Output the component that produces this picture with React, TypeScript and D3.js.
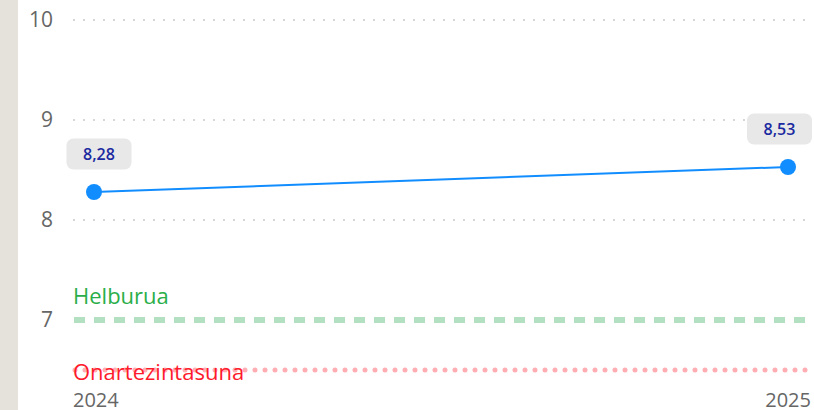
import React from "react";
import * as d3 from "d3";

const years = ["2024", "2025"];
const values = [8.28, 8.53];
const valueLabels = ["8,28", "8,53"];
const yTicks = [7, 8, 9, 10];
const gridTicks = [8, 9, 10];
const targetValue = 7;
const targetLabel = "Helburua";
const limitValue = 6.5;
const limitLabel = "Onartezintasuna";

const W = 814;
const H = 410;
const FONT = "'Segoe UI', 'Open Sans', 'Noto Sans', sans-serif";

export default function App() {
  const x = d3.scalePoint<string>().domain(years).range([94, 788]);
  const y = d3.scaleLinear().domain([6.5, 10]).range([370, 20]);
  const line = d3
    .line<number>()
    .x((_, i) => x(years[i]) as number)
    .y((d) => y(d));

  const boxes = values.map((v, i) => {
    const px = x(years[i]) as number;
    const bw = 65;
    let cx = px + 5;
    if (cx + bw / 2 > W - 2) cx = W - 2 - bw / 2;
    return { cx, cy: y(v) - 38, bw, bh: 31 };
  });

  return (
    <div style={{ position: "absolute", left: 0, top: 0 }}>
      <svg width={W} height={H} style={{ display: "block" }}>
        <rect x={0} y={0} width={W} height={H} fill="#ffffff" />
        <rect x={0} y={0} width={18} height={H} fill="#e5e1db" />
        {gridTicks.map((t) => (
          <line
            key={t}
            x1={74}
            x2={806}
            y1={y(t)}
            y2={y(t)}
            stroke="#c8c8c8"
            strokeWidth={2}
            strokeDasharray="0 10"
            strokeLinecap="round"
          />
        ))}
        {yTicks.map((t) => (
          <text
            key={t}
            x={53}
            y={y(t)}
            dy="0.35em"
            textAnchor="end"
            fontFamily={FONT}
            fontSize={21}
            fill="#666666"
          >
            {t}
          </text>
        ))}
        <line
          x1={74}
          x2={806}
          y1={y(targetValue)}
          y2={y(targetValue)}
          stroke="#b3e0c1"
          strokeWidth={6}
          strokeDasharray="11 9"
        />
        <text x={73} y={y(targetValue) - 16} fontFamily={FONT} fontSize={22} fill="#2aae49">
          {targetLabel}
        </text>
        <line
          x1={75}
          x2={808}
          y1={y(limitValue)}
          y2={y(limitValue)}
          stroke="#ffaeb3"
          strokeWidth={5}
          strokeDasharray="0 10"
          strokeLinecap="round"
        />
        <text x={73} y={y(limitValue) + 10} fontFamily={FONT} fontSize={22} fill="#ff1a2b">
          {limitLabel}
        </text>
        {years.map((yr, i) => (
          <text
            key={yr}
            x={i === 0 ? 73 : 811}
            y={407}
            textAnchor={i === 0 ? "start" : "end"}
            fontFamily={FONT}
            fontSize={20}
            fill="#666666"
          >
            {yr}
          </text>
        ))}
        <path d={line(values) || ""} fill="none" stroke="#118dff" strokeWidth={2} />
        {values.map((v, i) => (
          <circle key={i} cx={x(years[i]) as number} cy={y(v)} r={8} fill="#118dff" />
        ))}
        {values.map((v, i) => {
          const b = boxes[i];
          return (
            <g key={"l" + i}>
              <rect
                x={b.cx - b.bw / 2}
                y={b.cy - b.bh / 2}
                width={b.bw}
                height={b.bh}
                rx={7}
                fill="#e8e8e8"
              />
              <text
                x={b.cx}
                y={b.cy}
                dy="0.35em"
                textAnchor="middle"
                fontFamily={FONT}
                fontSize={16}
                fontWeight={600}
                fill="#1b2aa0"
              >
                {valueLabels[i]}
              </text>
            </g>
          );
        })}
      </svg>
    </div>
  );
}
